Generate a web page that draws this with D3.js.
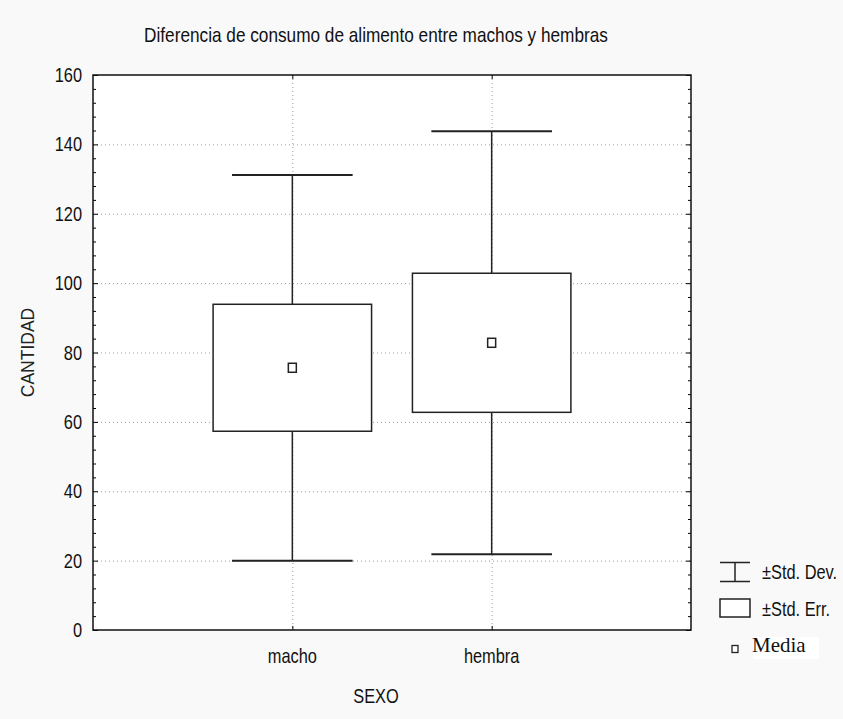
<!DOCTYPE html>
<html>
<head>
<meta charset="utf-8">
<script src="https://cdn.jsdelivr.net/npm/d3@7"></script>
<style>
  html, body { margin: 0; padding: 0; background: #f9f9f9; }
  svg { display: block; }
</style>
</head>
<body>
<script>
// ---- data ----
const categories = ["macho", "hembra"];
const means = [75.6, 82.8];
const stdErr = [18.3, 20.05];
const stdDev = [55.6, 60.95];
const yTicks = [0, 20, 40, 60, 80, 100, 120, 140, 160];
const titleText = "Diferencia de consumo de alimento entre machos y hembras";
const xTitle = "SEXO";
const yTitle = "CANTIDAD";
const legendLabels = ["±Std. Dev.", "±Std. Err.", "Media"];

// ---- layout ----
const W = 843, H = 719;
const L = 93, R = 691, T = 75, B = 630;
const NARROW = 0.82;
const FONT = "Liberation Sans, Arial, sans-serif";

const svg = d3.select("body").append("svg").attr("width", W).attr("height", H);
svg.append("rect").attr("width", W).attr("height", H).attr("fill", "#f9f9f9");

// condensed text helper (horizontal compression like Arial Narrow)
function narrowText(parent, x, yy, txt, size, anchor) {
  return parent.append("text")
    .attr("transform", `translate(${x},${yy}) scale(${NARROW},1)`)
    .attr("text-anchor", anchor || "start")
    .attr("font-family", FONT).attr("font-size", size).attr("fill", "#111")
    .text(txt);
}

const x = d3.scalePoint().domain(categories).range([L, R]).padding(1);
const y = d3.scaleLinear().domain([0, 160]).range([B, T]);
const step = x.step();

// plot background
svg.append("rect").attr("x", L).attr("y", T).attr("width", R - L).attr("height", B - T).attr("fill", "#ffffff");

// grid
const grid = svg.append("g").attr("stroke", "#9a9a9a").attr("stroke-width", 1).attr("stroke-dasharray", "1,3");
grid.selectAll("line.h").data(yTicks.filter(d => d > 0 && d < 160)).join("line")
  .attr("x1", L).attr("x2", R).attr("y1", d => y(d) + 0.5).attr("y2", d => y(d) + 0.5);
grid.selectAll("line.v").data(categories).join("line")
  .attr("y1", T).attr("y2", B).attr("x1", d => x(d) + 0.5).attr("x2", d => x(d) + 0.5);

// minor ticks (inward) on left and right
const minor = d3.range(0, 161, 4);
const tk = svg.append("g").attr("stroke", "#000").attr("stroke-width", 1);
tk.selectAll("line.l").data(minor).join("line")
  .attr("x1", L).attr("x2", d => L + (d % 20 === 0 ? 5 : 3))
  .attr("y1", d => y(d) + 0.5).attr("y2", d => y(d) + 0.5);
tk.selectAll("line.r").data(minor).join("line")
  .attr("x1", R).attr("x2", d => R - (d % 20 === 0 ? 5 : 3))
  .attr("y1", d => y(d) + 0.5).attr("y2", d => y(d) + 0.5);
tk.selectAll("line.b").data(categories).join("line")
  .attr("x1", d => x(d) + 0.5).attr("x2", d => x(d) + 0.5).attr("y1", B).attr("y2", B - 4);
tk.selectAll("line.t").data(categories).join("line")
  .attr("x1", d => x(d) + 0.5).attr("x2", d => x(d) + 0.5).attr("y1", T).attr("y2", T + 4);

// y tick labels
const yl = svg.append("g");
yTicks.forEach(d => narrowText(yl, 82, y(d) + 7, d, 20, "end"));

// x tick labels
const xl = svg.append("g");
categories.forEach(c => narrowText(xl, x(c), 663, c, 20, "middle"));

// boxes
const boxW = step * 0.795, capW = step * 0.605;
const g = svg.append("g").attr("fill", "none").attr("stroke", "#222");
categories.forEach((c, i) => {
  const cx = x(c);
  const m = means[i], se = stdErr[i], sd = stdDev[i];
  g.append("line").attr("x1", cx).attr("x2", cx).attr("y1", y(m + sd)).attr("y2", y(m + se)).attr("stroke-width", 1.5);
  g.append("line").attr("x1", cx).attr("x2", cx).attr("y1", y(m - se)).attr("y2", y(m - sd)).attr("stroke-width", 1.5);
  g.append("line").attr("x1", cx - capW / 2).attr("x2", cx + capW / 2).attr("y1", y(m + sd)).attr("y2", y(m + sd)).attr("stroke-width", 2);
  g.append("line").attr("x1", cx - capW / 2).attr("x2", cx + capW / 2).attr("y1", y(m - sd)).attr("y2", y(m - sd)).attr("stroke-width", 2);
  g.append("rect").attr("x", cx - boxW / 2).attr("y", y(m + se)).attr("width", boxW).attr("height", y(m - se) - y(m + se))
    .attr("fill", "#fff").attr("stroke-width", 1.5);
  g.append("rect").attr("x", cx - 4).attr("y", y(m) - 4.5).attr("width", 8).attr("height", 9)
    .attr("fill", "#fff").attr("stroke-width", 1.5);
});

// frame
svg.append("rect").attr("x", L).attr("y", T).attr("width", R - L).attr("height", B - T)
  .attr("fill", "none").attr("stroke", "#111").attr("stroke-width", 1.5);

// title
narrowText(svg, 376, 42, titleText, 21, "middle");

// axis titles
narrowText(svg, 376, 703, xTitle, 20, "middle");
svg.append("text").attr("transform", `translate(34, ${(T + B) / 2}) rotate(-90)`)
  .attr("text-anchor", "middle").attr("font-size", 17.5).attr("fill", "#222")
  .attr("font-family", FONT).text(yTitle);

// legend
const lg = svg.append("g");
lg.append("line").attr("x1", 720).attr("x2", 750).attr("y1", 562.5).attr("y2", 562.5).attr("stroke", "#222").attr("stroke-width", 1.5);
lg.append("line").attr("x1", 720).attr("x2", 750).attr("y1", 581.5).attr("y2", 581.5).attr("stroke", "#222").attr("stroke-width", 1.5);
lg.append("line").attr("x1", 735).attr("x2", 735).attr("y1", 562.5).attr("y2", 581.5).attr("stroke", "#222").attr("stroke-width", 1.5);
lg.append("rect").attr("x", 720).attr("y", 599).attr("width", 30).attr("height", 18).attr("fill", "#fff").attr("stroke", "#222").attr("stroke-width", 1.5);
lg.append("rect").attr("x", 753).attr("y", 637).attr("width", 66).attr("height", 22).attr("fill", "#fff");
lg.append("rect").attr("x", 732).attr("y", 645.5).attr("width", 6).attr("height", 7).attr("fill", "#fff").attr("stroke", "#222").attr("stroke-width", 1.3);
narrowText(lg, 762, 579, legendLabels[0], 20, "start");
narrowText(lg, 762, 616, legendLabels[1], 20, "start");
lg.append("text").attr("x", 752).attr("y", 652).attr("font-size", 21).attr("fill", "#111")
  .attr("font-family", "Liberation Serif, Times New Roman, serif").text(legendLabels[2]);
</script>
</body>
</html>
